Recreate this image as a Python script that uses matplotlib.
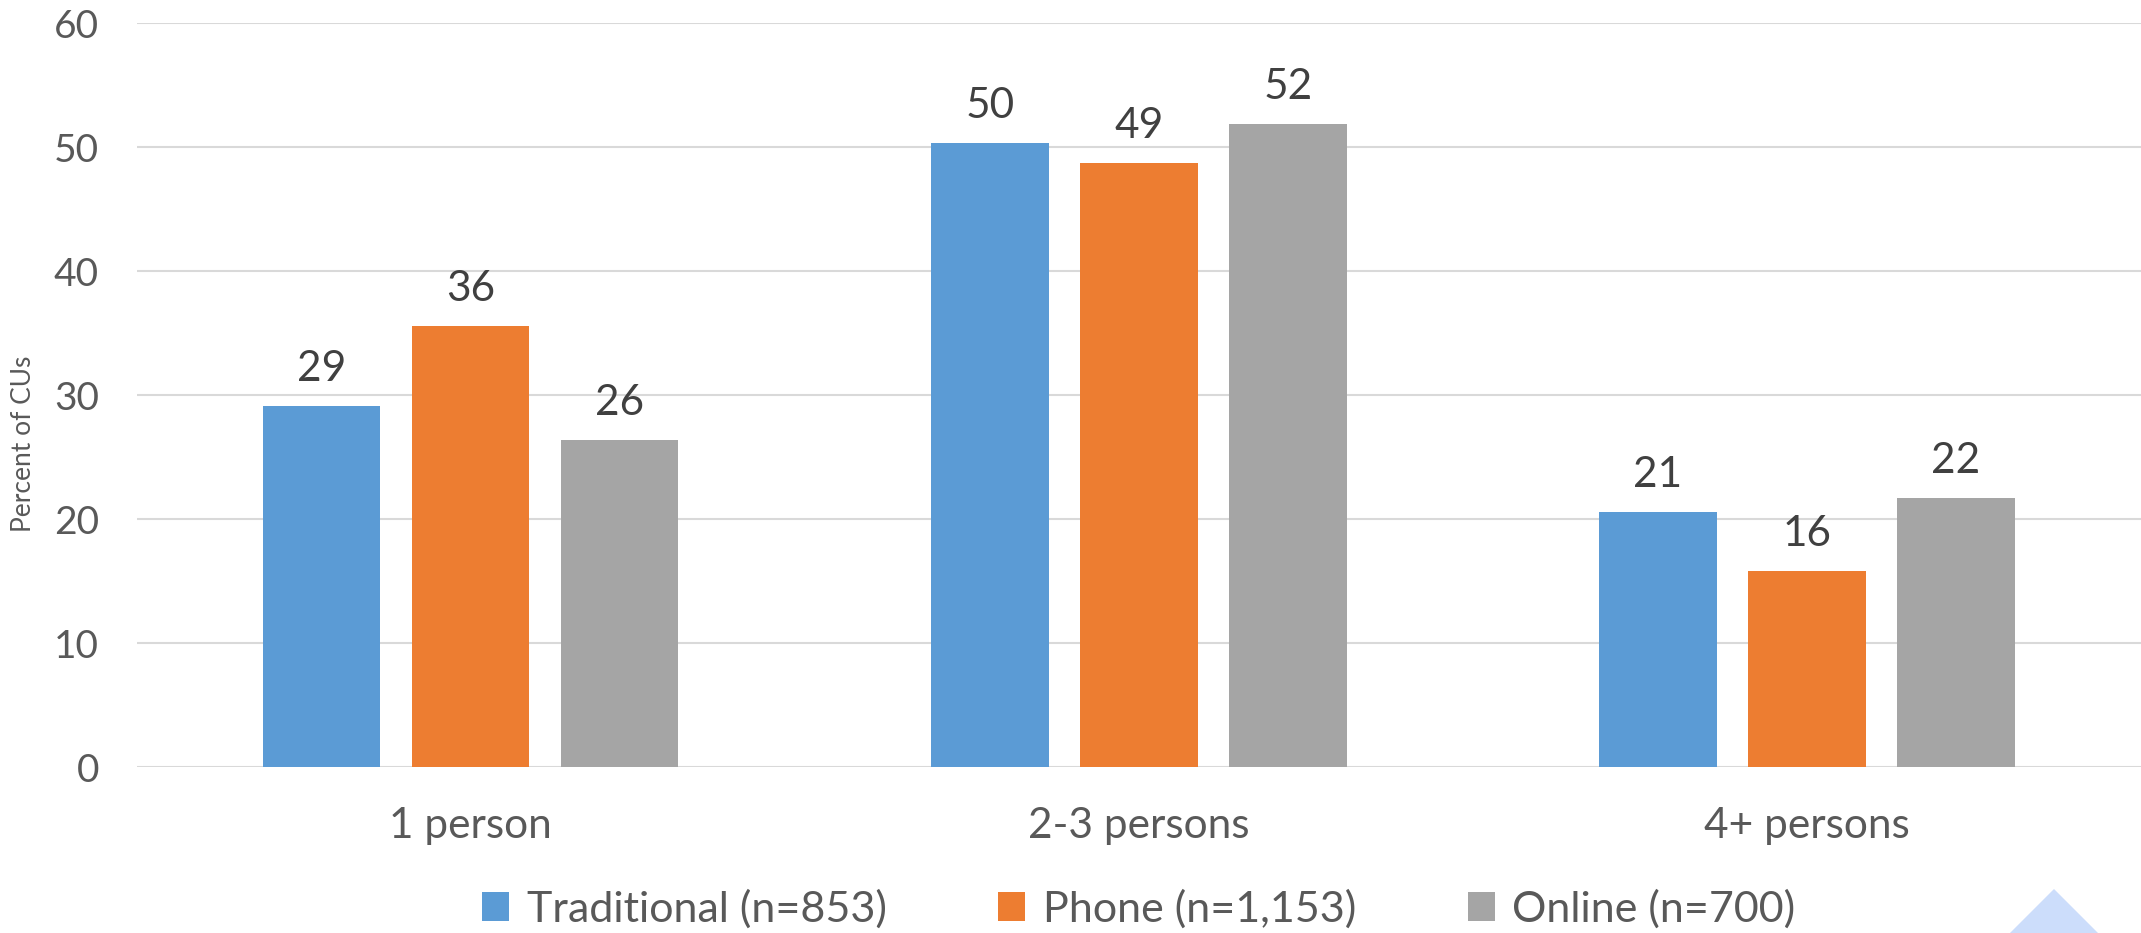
import matplotlib
matplotlib.use("Agg")
import matplotlib.pyplot as plt
import numpy as np
from matplotlib.patches import Polygon

categories = ["1 person", "2-3 persons", "4+ persons"]
series_names = ["Traditional (n=853)", "Phone (n=1,153)", "Online (n=700)"]
traditional = [29.1, 50.3, 20.6]
phone = [35.6, 48.7, 15.8]
online = [26.4, 51.9, 21.7]
colors = ["#5B9BD5", "#ED7D31", "#A5A5A5"]
yticks = [0, 10, 20, 30, 40, 50, 60]

plt.rcParams['font.family'] = ['Lato', 'DejaVu Sans']

W, H = 2141, 933
fig = plt.figure(figsize=(W / 100, H / 100), dpi=100)
ax = fig.add_axes([136.5 / W, 1 - 767 / H, 1 - 136.5 / W, (767 - 23.2) / H])

x = np.arange(len(categories))
width = 0.176
offset = 0.223
for i, (vals, name, c) in enumerate(zip([traditional, phone, online], series_names, colors)):
    bars = ax.bar(x + (i - 1) * offset, vals, width, color=c, label=name, zorder=3)
    for b, v in zip(bars, vals):
        ax.annotate(f"{v:.0f}", (b.get_x() + b.get_width() / 2, v), xytext=(0, 13),
                    textcoords="offset points", ha="center", va="bottom",
                    fontsize=30.5, color="#404040", zorder=4)

ax.set_xlim(-0.5, 2.5)
ax.set_ylim(0, 60)
ax.set_yticks(yticks)
ax.set_xticks(x)
ax.set_xticklabels(categories)
ax.grid(axis="y", color="#D9D9D9", linewidth=1.5, zorder=0)
for s in ax.spines.values():
    s.set_visible(False)
ax.tick_params(axis="y", length=0, pad=27, labelsize=28, labelcolor="#595959")
ax.tick_params(axis="x", length=0, pad=29, labelsize=30.5, labelcolor="#595959")

ax.set_ylabel("Percent of CUs", color="#595959", fontsize=19)
ax.yaxis.set_label_coords(-(136.5 - 36) / (W - 136.5), 0.434)

handles, labels = ax.get_legend_handles_labels()
leg = fig.legend(handles, labels, loc="center", ncol=3,
                 bbox_to_anchor=((136.5 + (W - 136.5) / 2) / W, 1 - 909 / H),
                 frameon=False, fontsize=31, handlelength=0.63, handleheight=0.63,
                 handletextpad=0.4, columnspacing=2.6, labelcolor="#595959")

tri = Polygon([[2054 / W, 1 - 889 / H], [2010 / W, 0], [2098 / W, 0]],
              closed=True, transform=fig.transFigure, facecolor="#CCDDFB",
              edgecolor="none")
fig.patches.append(tri)

fig.savefig("out.png", dpi=100)
